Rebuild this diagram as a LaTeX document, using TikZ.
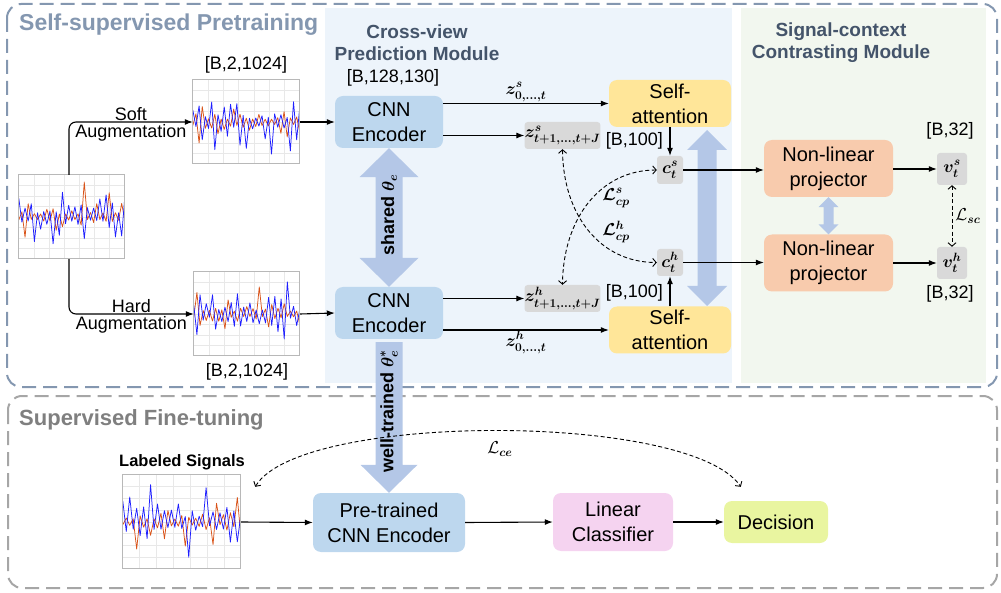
\documentclass[tikz,border=0pt]{standalone}
\usepackage{amsmath,amssymb}
\usepackage{fontspec}
\setmainfont{Liberation Sans}
\usetikzlibrary{arrows.meta,calc}
\DeclareMathSizes{16}{16}{12}{9}
\DeclareMathSizes{17}{17}{13}{10}

\definecolor{encblue}{HTML}{BDD7EE}
\definecolor{sayellow}{HTML}{FFE699}
\definecolor{projorange}{HTML}{F8CBAD}
\definecolor{greybox}{HTML}{D9D9D9}
\definecolor{blockc}{HTML}{B4C7E7}
\definecolor{pinkc}{HTML}{F5D3F0}
\definecolor{decc}{HTML}{E9F5A0}
\definecolor{panelblue}{HTML}{EDF4FB}
\definecolor{panelgreen}{HTML}{F2F7EF}
\definecolor{headc}{HTML}{44546A}
\definecolor{topframe}{HTML}{8497B0}
\definecolor{botframe}{HTML}{A6A6A6}
\definecolor{bottitle}{HTML}{7F7F7F}
\definecolor{sigblue}{HTML}{1F1FFF}
\definecolor{sigorange}{HTML}{D95319}

\newcommand\setfs[2]{\fontsize{#1}{#2}\selectfont}

% waveform plot inside a named frame node: name, seed, width, height
\newcommand\drawsig[4]{%
  \begin{scope}[shift={(#1.north west)}]
    \foreach \k in {1,...,6} \draw[gridline] ({\k*#3/7},0) -- ({\k*#3/7},#4);
    \foreach \k in {1,...,7} \draw[gridline] (0,{\k*#4/8}) -- (#3,{\k*#4/8});
    \begin{scope}
      \clip (0,0) rectangle (#3,#4);
      \pgfmathsetseed{#2}
      \draw[orangewave] plot[samples=35, domain=0:34]
        ({\x*#3/34}, {#4/2 + (1-2*mod(round(\x),2))*(#4*0.03 + #4*0.42*rnd*rnd*rnd)});
      \draw[bluewave] plot[samples=35, domain=0:34]
        ({\x*#3/34}, {#4/2 + (2*mod(round(\x),2)-1)*(#4*0.04 + #4*0.42*rnd*rnd)});
    \end{scope}
    \draw[gridframe] (0,0) rectangle (#3,#4);
  \end{scope}}

% vertical double-headed block arrow: top tip, bottom tip, half shaft, half head, head length
\newcommand\dblblock[5]{%
  \fill[blockc] (#1) -- ($(#1)+(#4,#5)$) -- ($(#1)+(#3,#5)$) -- ($(#2)+(#3,-#5)$)
    -- ($(#2)+(#4,-#5)$) -- (#2) -- ($(#2)+(-#4,-#5)$) -- ($(#2)+(-#3,-#5)$)
    -- ($(#1)+(-#3,#5)$) -- ($(#1)+(-#4,#5)$) -- cycle;}

\begin{document}
\begin{tikzpicture}[x=1pt,y=-1pt,
  box/.style={rounded corners=8pt, align=center, inner sep=0pt, text=black,
    font=\setfs{20}{25}},
  enc/.style={box, fill=encblue, minimum width=108pt, minimum height=52pt},
  satt/.style={box, fill=sayellow, minimum width=122pt, minimum height=47pt},
  proj/.style={box, fill=projorange, minimum width=129pt, minimum height=57pt},
  gbox/.style={rounded corners=3pt, fill=greybox, inner sep=0pt, font=\setfs{16}{18}},
  plotbox/.style={fill=white, inner sep=0pt},
  gridline/.style={draw=black!9, line width=0.5pt},
  gridframe/.style={draw=black!28, line width=0.7pt},
  bluewave/.style={draw=sigblue, line width=0.75pt, line join=round},
  orangewave/.style={draw=sigorange, line width=0.75pt, line join=round},
  arr/.style={-{Latex[length=8pt,width=6pt]}, line width=1.1pt},
  darr/.style={{Straight Barb[length=3.5pt,width=8pt]}-{Straight Barb[length=3.5pt,width=8pt]},
    line width=0.9pt, dash pattern=on 4pt off 2.5pt},
  note/.style={font=\setfs{18}{22}, inner sep=1pt},
  mlab/.style={font=\setfs{17}{19}, inner sep=1pt},
  heading/.style={font=\bfseries\setfs{19}{22}, text=headc, align=center},
]
\useasboundingbox (0,0) rectangle (1001,593);

% module panels
\fill[panelblue] (325,8) rectangle (732,383);
\fill[panelgreen] (741,8) rectangle (986,383);

% stage frames
\draw[topframe, line width=2pt, dash pattern=on 14pt off 7pt, rounded corners=14pt]
  (7,4) rectangle (997,387);
\draw[botframe, line width=2pt, dash pattern=on 14pt off 7pt, rounded corners=14pt]
  (8,396) rectangle (997,588);

% stage and module titles
\node[anchor=base west, inner sep=0pt, text=topframe, font=\bfseries\setfs{23}{26}]
  (ttop) at (19,31) {Self-supervised Pretraining};
\node[anchor=base west, inner sep=0pt, text=bottitle, font=\bfseries\setfs{22}{26}]
  (tbot) at (19,425) {Supervised Fine-tuning};
\node[heading] (hcv) at (417,43) {Cross-view\\Prediction Module};
\node[heading] (hsc) at (841,43) {Signal-context\\Contrasting Module};

% signal plots
\node[plotbox, minimum width=106pt, minimum height=84pt] (sig0) at (72,217) {};
\node[plotbox, minimum width=107pt, minimum height=84pt] (sigS) at (246.5,122) {};
\node[plotbox, minimum width=106pt, minimum height=84pt] (sigH) at (247,314) {};
\node[plotbox, minimum width=118pt, minimum height=94pt] (sigL) at (182,522) {};
\drawsig{sig0}{11}{106}{84}
\drawsig{sigS}{23}{107}{84}
\drawsig{sigH}{37}{106}{84}
\drawsig{sigL}{51}{118}{94}

\node[note] (bs) at (246,65) {[B,2,1024]};
\node[note] (bh) at (247,372) {[B,2,1024]};
\node[font=\bfseries\setfs{16.5}{18}, inner sep=0pt] (lsig) at (182,462) {Labeled Signals};

% augmentation branches
\draw[arr, rounded corners=7pt] ($(sig0.north)+(-3,0)$) |- (sigS.west)
  node[pos=0.75, note, anchor=south] {Soft}
  node[pos=0.75, note, anchor=north, yshift=-1pt] {Augmentation};
\draw[arr, rounded corners=7pt] ($(sig0.south)+(-3,0)$) |- (sigH.west)
  node[pos=0.75, note, anchor=south] {Hard}
  node[pos=0.75, note, anchor=north, yshift=-1pt] {Augmentation};

% encoders
\node[enc] (enc1) at (389,122) {CNN\\Encoder};
\node[enc] (enc2) at (389,313) {CNN\\Encoder};
\node[note] (b128) at (393,78) {[B,128,130]};
\draw[arr] (sigS.east) -- (enc1.west);
\draw[arr] (sigH.east) -- (enc2.west);

% shared weights
\dblblock{enc1.south}{enc2.north}{13.5}{29.5}{29}
\node[rotate=90, inner sep=0pt, font=\bfseries\setfs{18}{20}] (tshared) at (389,215)
  {shared $\boldsymbol{\theta}_{\boldsymbol{e}}$};

% self-attention and context vectors
\node[satt] (sa1) at (670,103.5) {Self-\\attention};
\node[satt] (sa2) at (670,330) {Self-\\attention};
\node[gbox, minimum width=73pt, minimum height=27pt] (zs) at (562.5,135.5)
  {$\boldsymbol{z^{s}_{t+1,\ldots,t+J}}$};
\node[gbox, minimum width=73pt, minimum height=27pt] (zh) at (562.5,298.5)
  {$\boldsymbol{z^{h}_{t+1,\ldots,t+J}}$};
\node[gbox, minimum width=26pt, minimum height=28pt] (cs) at (670,170) {$\boldsymbol{c^{s}_{t}}$};
\node[gbox, minimum width=26pt, minimum height=27pt] (ch) at (670,262.5) {$\boldsymbol{c^{h}_{t}}$};

\draw[arr] (enc1.east |- sa1.west) -- (sa1.west)
  node[midway, above, mlab] {$\boldsymbol{z^{s}_{0,\ldots,t}}$};
\draw[arr] (enc1.east |- zs.west) -- (zs.west);
\draw[arr] (enc2.east |- zh.west) -- (zh.west);
\draw[arr] (enc2.east |- sa2.west) -- (sa2.west)
  node[midway, below, mlab] {$\boldsymbol{z^{h}_{0,\ldots,t}}$};
\draw[arr] (sa1.south) -- (cs.north);
\draw[arr] (sa2.north) -- (ch.south);
\node[note, anchor=east] (b100a) at (664,141) {[B,100]};
\node[note, anchor=east] (b100b) at (664,293) {[B,100]};

% cross-view prediction losses
\draw[darr] (zs.south) .. controls (563,215) and (600,262.5) .. (ch.west);
\draw[darr] (cs.west) .. controls (600,170) and (563,219) .. (zh.north);
\node[mlab] (lcps) at (616,198) {$\boldsymbol{\mathcal{L}^{s}_{cp}}$};
\node[mlab] (lcph) at (616,232) {$\boldsymbol{\mathcal{L}^{h}_{cp}}$};

% shared self-attention weights
\coordinate (satop) at (707,130);
\coordinate (sabot) at (707,306);
\dblblock{satop}{sabot}{9.5}{20}{20}

% projectors and embeddings
\node[proj] (p1) at (828.5,168.5) {Non-linear\\projector};
\node[proj] (p2) at (828.5,263) {Non-linear\\projector};
\dblblock{p1.south}{p2.north}{5}{10}{10}
\node[gbox, minimum width=30pt, minimum height=32pt] (vs) at (952,169) {$\boldsymbol{v^{s}_{t}}$};
\node[gbox, minimum width=30pt, minimum height=32pt] (vh) at (952,263) {$\boldsymbol{v^{h}_{t}}$};
\node[note] (b32a) at (950,131) {[B,32]};
\node[note] (b32b) at (950,294) {[B,32]};

\draw[arr] (cs.east) -- (cs.east -| p1.west);
\draw[arr] (ch.east) -- (ch.east -| p2.west);
\draw[arr] (p1.east |- vs.west) -- (vs.west);
\draw[arr] (p2.east |- vh.west) -- (vh.west);
\draw[darr] (vs.south) -- (vh.north)
  node[midway, right, mlab, xshift=2pt] {$\mathcal{L}_{\boldsymbol{sc}}$};

% fine-tuning stage
\node[box, fill=encblue, minimum width=152pt, minimum height=59pt] (pre) at (389,522.5)
  {Pre-trained\\CNN Encoder};
\node[box, fill=pinkc, minimum width=120pt, minimum height=58pt] (lin) at (613,522)
  {Linear\\Classifier};
\node[box, fill=decc, minimum width=104pt, minimum height=42pt] (dec) at (776,522) {Decision};

\fill[blockc] ($(enc2.south)+(-13.5,3)$) -- ($(enc2.south)+(13.5,3)$)
  -- ($(pre.north)+(13.5,-28)$) -- ($(pre.north)+(28.5,-28)$) -- (pre.north)
  -- ($(pre.north)+(-28.5,-28)$) -- ($(pre.north)+(-13.5,-28)$) -- cycle;
\node[rotate=90, inner sep=0pt, font=\bfseries\setfs{18}{20}] (twell) at (389,411)
  {well-trained $\boldsymbol{\theta}^{\boldsymbol{*}}_{\boldsymbol{e}}$};

\draw[arr] (sigL.east) -- (pre.west);
\draw[arr] (pre.east) -- (lin.west);
\draw[arr] (lin.east) -- (dec.west);

\coordinate (ceL) at ($(sigL.north east)+(14,12)$);
\coordinate (ceR) at ($(dec.north west)+(17,-14)$);
\draw[darr] (ceL) .. controls (300,412) and (690,412) .. (ceR);
\node[mlab] (lce) at (500,449) {$\mathcal{L}_{\boldsymbol{ce}}$};

\end{tikzpicture}
\end{document}
